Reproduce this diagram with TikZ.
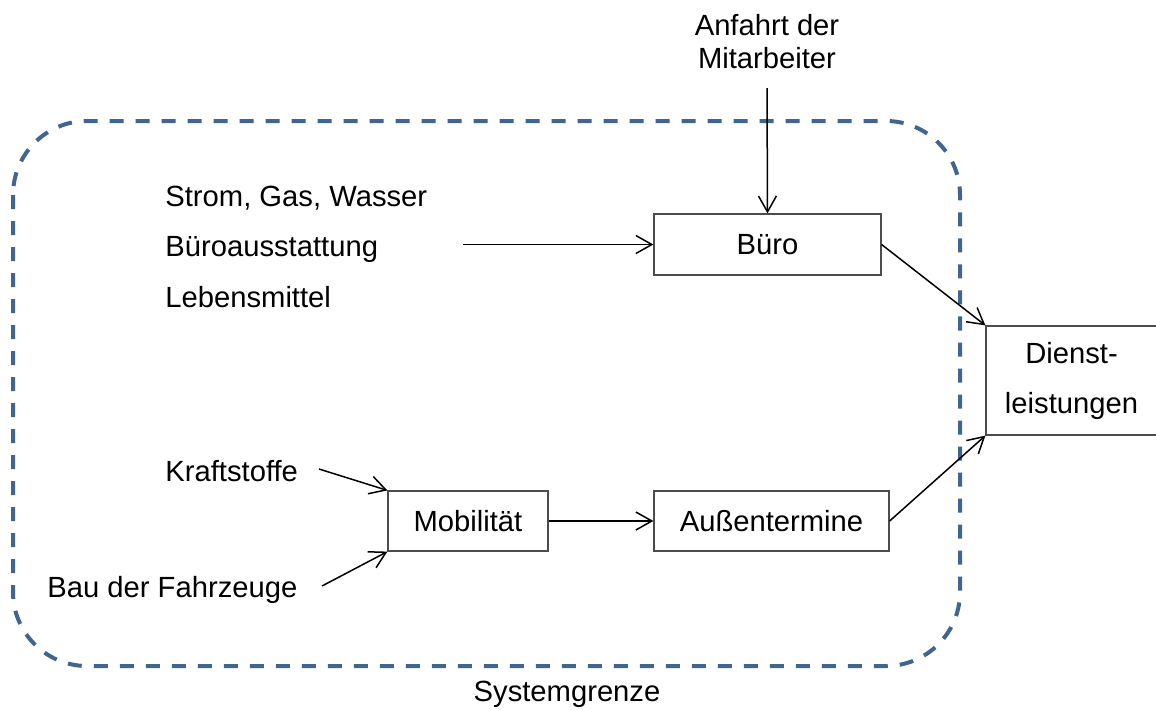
\documentclass[tikz,border=0pt]{standalone}
\usepackage{fontspec}
\setmainfont{Liberation Sans}
\usetikzlibrary{arrows.meta, positioning}

\definecolor{grenzblau}{RGB}{65,100,145}

\begin{document}
\begin{tikzpicture}[
  x=0.5pt, y=-0.5pt,
  font=\fontsize{14.6}{16.5}\selectfont,
  prozess/.style={rectangle, draw=black!70, line width=0.6pt, inner sep=0pt,
                  text centered},
  label/.style={inner sep=0pt},
  arrow/.style={-{Straight Barb[length=8pt,width=9pt]}, line width=0.75pt},
  grenze/.style={draw=grenzblau, line width=2pt, dash pattern=on 7pt off 6pt,
                 rounded corners=37pt}
]
\useasboundingbox (0,0) rectangle (1156,709);
% Systemgrenze
\draw[grenze] (13,121) rectangle (960,666);
\node[label, anchor=base] (sys) at (567,701) {Systemgrenze};
% Prozesse
\node[prozess, minimum width=113.5pt, minimum height=30.5pt] (buero)  at (767.5,244.5) {Büro};
\node[prozess, minimum width=80pt,    minimum height=30pt]   (mobil)  at (468,521)     {Mobilität};
\node[prozess, minimum width=117.5pt, minimum height=30pt]   (aussen) at (771.5,521)   {Außentermine};
\node[prozess, minimum width=85.5pt,  minimum height=54.5pt, align=center,
      font=\fontsize{14.6}{25}\selectfont] (dienst) at (1071.5,380.5) {Dienst-\\leistungen};
% Eingaenge
\node[label, anchor=base, align=center] (anfahrt) at (767,68) {Anfahrt der\\Mitarbeiter};
\node[label, anchor=base west] (strom)  at (165,206) {Strom, Gas, Wasser};
\node[label, anchor=base west] (ausst)  at (165,256) {Büroausstattung};
\node[label, anchor=base west] (lebens) at (165,307) {Lebensmittel};
\node[label, anchor=base west] (kraft)  at (165,481) {Kraftstoffe};
\node[label, anchor=base west] (bau)    at (47,597)  {Bau der Fahrzeuge};
\coordinate (anfahrtend) at (767,88);
\coordinate (listeend)   at (463,244.5);
\coordinate (kraftend)   at (319,469);
\coordinate (bauend)     at (322,586);
% Pfeile
\draw[arrow] (anfahrtend) -- (buero.north);
\draw[arrow] (listeend) -- (buero.west);
\draw[arrow] (kraftend) -- (mobil.north west);
\draw[arrow] (bauend) -- (mobil.south west);
\draw[arrow] (mobil) -- (aussen);
\draw[arrow] (buero.east) -- (dienst.north west);
\draw[arrow] (aussen.east) -- (dienst.south west);
\end{tikzpicture}
\end{document}
